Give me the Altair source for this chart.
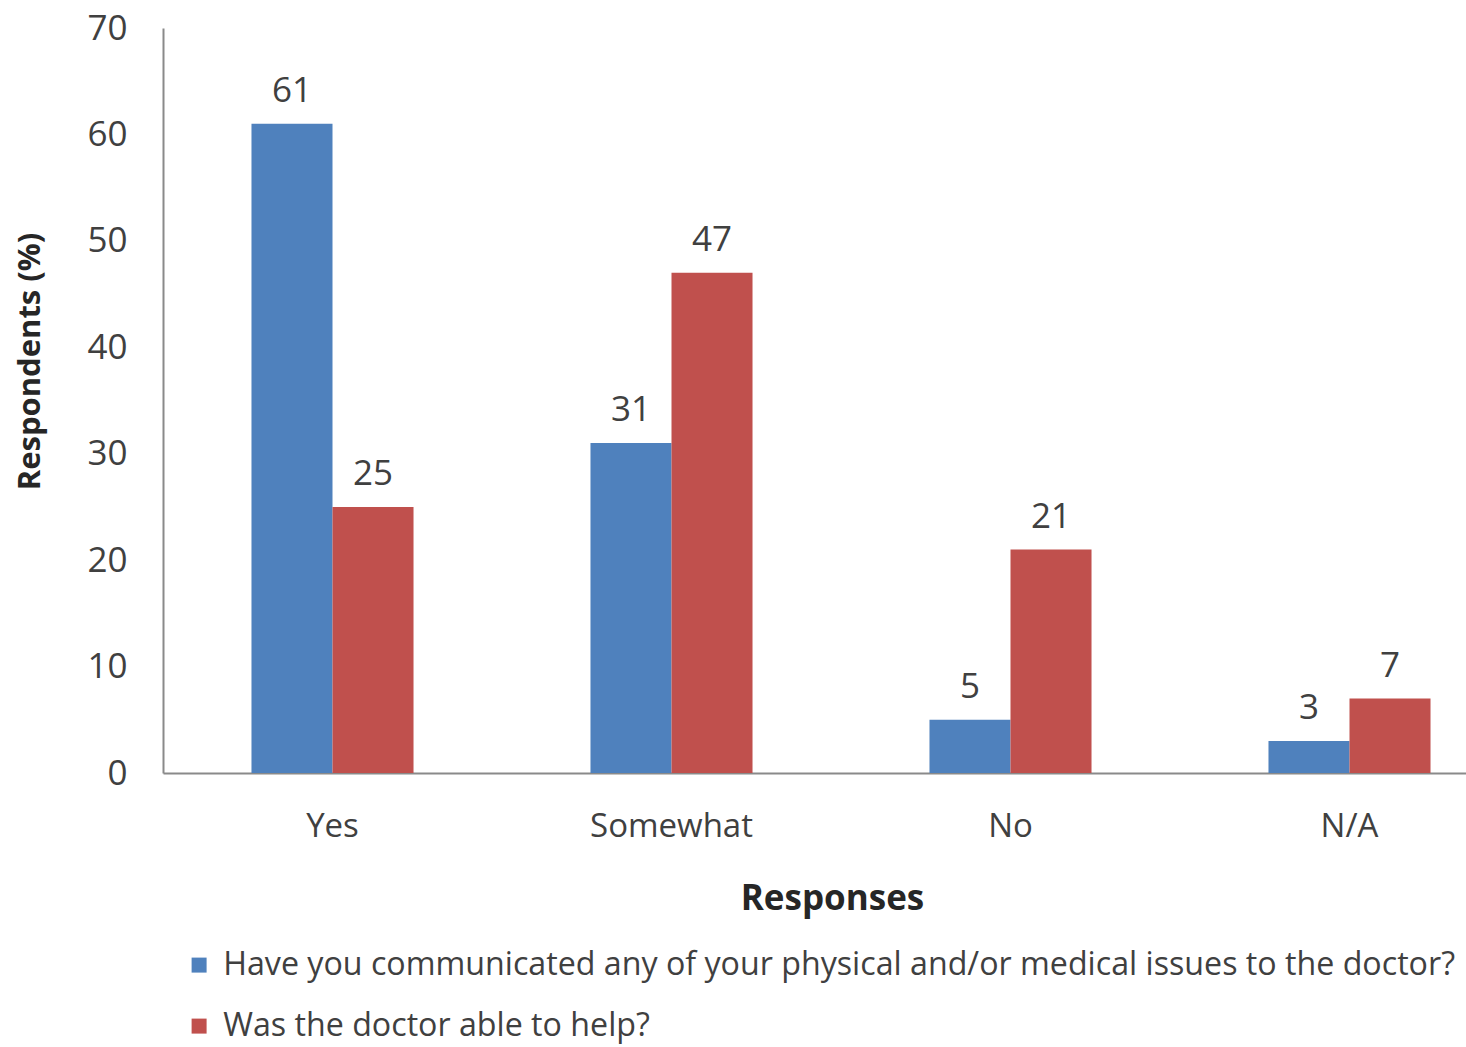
import altair as alt
import pandas as pd

# Survey responses, percent of respondents per answer
responses = ["Yes", "Somewhat", "No", "N/A"]
series = [
    "Have you communicated any of your physical and/or medical issues to the doctor?",
    "Was the doctor able to help?",
]
communicated = [61, 31, 5, 3]
doctor_helped = [25, 47, 21, 7]

rows = []
for r, a, b in zip(responses, communicated, doctor_helped):
    rows.append({"response": r, "question": series[0], "pct": a})
    rows.append({"response": r, "question": series[1], "pct": b})
df = pd.DataFrame(rows)

FONT = "Open Sans"
TEXT = "#404040"

x = alt.X(
    "response:N",
    sort=responses,
    scale=alt.Scale(range=[0, 1356], paddingInner=0.522, paddingOuter=0.261),
    axis=alt.Axis(
        title="Responses",
        titleFontSize=35,
        titleFontWeight="bold",
        titleColor="#262626",
        titleX=669,
        titleY=125,
        titleBaseline="middle",
        labelAngle=0,
        labelFontSize=33,
        labelColor=TEXT,
        labelPadding=37,
        ticks=False,
        domainColor="#8a8a8a",
        domainWidth=2,
    ),
)
y = alt.Y(
    "pct:Q",
    scale=alt.Scale(domain=[0, 70], nice=False),
    axis=alt.Axis(
        title="Respondents (%)",
        titleFontSize=31,
        titleFontWeight="bold",
        titleColor="#262626",
        titleX=-133,
        titleY=333,
        titleAngle=270,
        titleAlign="center",
        titleBaseline="middle",
        values=[0, 10, 20, 30, 40, 50, 60, 70],
        labelFontSize=35,
        labelColor=TEXT,
        labelPadding=36,
        ticks=False,
        grid=False,
        domainColor="#8a8a8a",
        domainWidth=2,
    ),
)
color = alt.Color(
    "question:N",
    scale=alt.Scale(domain=series, range=["#4F81BD", "#C0504D"]),
    legend=alt.Legend(
        title=None,
        orient="none",
        legendX=20,
        legendY=921,
        direction="vertical",
        symbolType="square",
        symbolSize=225,
        symbolStrokeWidth=0,
        labelFontSize=32.2,
        labelColor=TEXT,
        labelOffset=8,
        labelLimit=3000,
        rowPadding=28,
        padding=0,
    ),
)
offset = alt.XOffset("question:N", sort=series, scale=alt.Scale(paddingInner=0, paddingOuter=0))

bars = alt.Chart(df).mark_bar().encode(x=x, y=y, color=color, xOffset=offset)
labels = alt.Chart(df).mark_text(
    baseline="bottom", dy=-15, fontSize=35, color=TEXT, font=FONT
).encode(x=x, y=y, xOffset=offset, text="pct:Q")

chart = (
    alt.layer(bars, labels)
    .properties(
        width=1303,
        height=745,
        autosize=alt.AutoSizeParams(type="none"),
        padding={"left": 163, "top": 28, "right": 0, "bottom": 274},
    )
    .configure(font=FONT)
    .configure_view(stroke=None)
)

chart.save("out.html", embed_options={"renderer": "svg", "actions": False})
